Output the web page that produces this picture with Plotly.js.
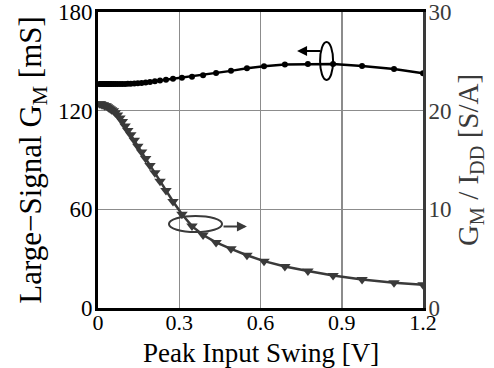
<!DOCTYPE html>
<html>
<head>
<meta charset="utf-8">
<script src="https://cdn.plot.ly/plotly-3.0.1.min.js"></script>
<style>html,body{margin:0;padding:0;background:#fff;}#chart{width:494px;height:368px;}</style>
</head>
<body>
<div id="chart"></div>
<script>
// Peak input swing [V]
var swing = [0.005, 0.01, 0.015, 0.02, 0.025, 0.03, 0.035, 0.04, 0.045, 0.05, 0.057, 0.064, 0.072, 0.081, 0.09, 0.10, 0.11, 0.121, 0.134, 0.147, 0.161, 0.176, 0.192, 0.210, 0.229, 0.251, 0.277, 0.310, 0.347, 0.388, 0.436, 0.491, 0.550, 0.613, 0.690, 0.775, 0.868, 0.975, 1.093, 1.2];
// Large-signal GM [mS] (left axis)
var gmLarge = [136.2, 136.2, 136.2, 136.2, 136.2, 136.2, 136.2, 136.2, 136.2, 136.2, 136.2, 136.2, 136.2, 136.2, 136.2, 136.2, 136.3, 136.4, 136.5, 136.7, 136.9, 137.2, 137.5, 137.9, 138.3, 138.8, 139.4, 140.0, 140.6, 141.6, 142.9, 144.2, 145.8, 147.0, 148.0, 148.4, 148.4, 147.2, 145.4, 142.8];
// GM / IDD [S/A] (right axis)
var gmOverIdd = [20.7, 20.7, 20.6, 20.6, 20.5, 20.5, 20.4, 20.3, 20.2, 20.1, 20.0, 19.8, 19.55, 19.25, 18.9, 18.45, 18.0, 17.55, 17.0, 16.4, 15.8, 15.15, 14.45, 13.7, 12.85, 11.9, 10.8, 9.5, 8.3, 7.4, 6.65, 6.0, 5.35, 4.75, 4.2, 3.75, 3.3, 2.9, 2.55, 2.35];
var xTicks = [0, 0.3, 0.6, 0.9, 1.2];
var xTickText = ['0', '0.3', '0.6', '0.9', '1.2'];
var yLeftTicks = [0, 60, 120, 180];
var yRightTicks = [0, 10, 20, 30];

var serif = 'Liberation Serif';
var gray = '#3a3a3a';

var traces = [
  {x: swing, y: gmLarge, type: 'scatter', mode: 'lines+markers', yaxis: 'y',
   line: {color: '#000', width: 2.5}, marker: {symbol: 'circle', size: 6, color: '#000'}, showlegend: false},
  {x: swing, y: gmOverIdd, type: 'scatter', mode: 'lines+markers', yaxis: 'y2',
   line: {color: gray, width: 2.5}, marker: {symbol: 'triangle-down', size: 10, color: gray}, showlegend: false}
];

var layout = {
  width: 494, height: 368,
  margin: {l: 98, r: 71, t: 12, b: 60},
  paper_bgcolor: '#fff', plot_bgcolor: '#fff',
  font: {family: serif, size: 22, color: '#000'},
  xaxis: {range: [0, 1.2], tickvals: xTicks, ticktext: xTickText,
          showgrid: true, gridcolor: '#8c8c8c', gridwidth: 1.5, zeroline: false,
          showline: true, linecolor: '#000', linewidth: 3, mirror: true, ticks: '',
          ticklabelstandoff: -7,
          tickfont: {family: serif, size: 22, color: '#000'}},
  yaxis: {range: [0, 180], tickvals: yLeftTicks, showgrid: true, gridcolor: '#8c8c8c', gridwidth: 1.5,
          zeroline: false, showline: true, linecolor: '#000', linewidth: 3, ticks: '',
          ticklabelstandoff: -2,
          tickfont: {family: serif, size: 23, color: '#000'},
          title: {text: 'Large\u2212Signal G<sub>M</sub> [mS]', font: {family: serif, size: 31, color: '#000'}, standoff: 8}},
  yaxis2: {range: [0, 30], tickvals: yRightTicks, overlaying: 'y', side: 'right', showgrid: false,
           zeroline: false, showline: true, linecolor: gray, linewidth: 3, ticks: '',
           ticklabelstandoff: -2,
           tickfont: {family: serif, size: 23, color: gray},
           title: {text: 'G<sub>M</sub> / I<sub>DD</sub> [S/A]', font: {family: serif, size: 29, color: gray}, standoff: 2}},
  shapes: [
    {type: 'circle', xref: 'x', yref: 'y', x0: 0.820, x1: 0.868, y0: 138.7, y1: 161.8,
     line: {color: '#000', width: 2}},
    {type: 'circle', xref: 'x', yref: 'y', x0: 0.262, x1: 0.458, y0: 46.2, y1: 56.0,
     line: {color: gray, width: 2}}
  ],
  annotations: [
    {x: 0.735, y: 156.3, ax: 0.827, ay: 156.3, xref: 'x', yref: 'y', axref: 'x', ayref: 'y',
     text: '', showarrow: true, arrowhead: 2, arrowsize: 1, arrowwidth: 2, arrowcolor: '#000'},
    {x: 0.550, y: 49.5, ax: 0.458, ay: 49.5, xref: 'x', yref: 'y', axref: 'x', ayref: 'y',
     text: '', showarrow: true, arrowhead: 2, arrowsize: 1, arrowwidth: 2, arrowcolor: gray},
    {x: 0.5, y: -0.153, xref: 'paper', yref: 'paper', xanchor: 'center', yanchor: 'middle',
     text: 'Peak Input Swing [V]', showarrow: false, borderpad: 0, font: {family: serif, size: 27, color: '#000'}}
  ]
};

Plotly.newPlot('chart', traces, layout, {displayModeBar: false, staticPlot: true});
</script>
</body>
</html>
